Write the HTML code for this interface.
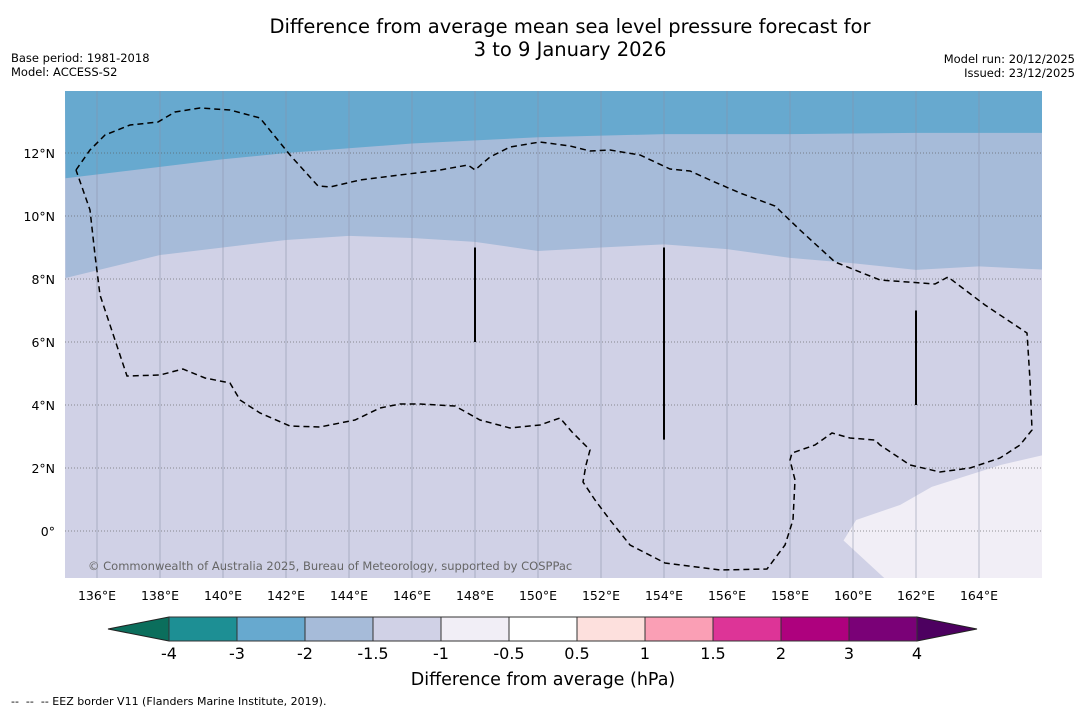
<!DOCTYPE html>
<html><head><meta charset="utf-8"><style>
body{margin:0;background:#fff;font-family:"DejaVu Sans","Liberation Sans",sans-serif;}
#root{position:relative;width:1085px;height:713px;overflow:hidden;background:#fff;}
.t{position:absolute;white-space:nowrap;color:#000;}
</style></head><body>
<div id="root">
<div class="t" style="left:0;width:1140px;text-align:center;top:15px;font-size:19.5px;line-height:23px;">Difference from average mean sea level pressure forecast for<br>3 to 9 January 2026</div>
<div class="t" style="left:11px;top:51px;font-size:11.5px;line-height:14px;">Base period: 1981-2018<br>Model: ACCESS-S2</div>
<div class="t" style="right:10px;top:52px;font-size:11.5px;line-height:14px;text-align:right;">Model run: 20/12/2025<br>Issued: 23/12/2025</div>
<svg id="map" width="1085" height="713" style="position:absolute;left:0;top:0;"></svg>
<div class="t" style="left:11px;top:695px;font-size:11px;">-- &nbsp;-- &nbsp;-- EEZ border V11 (Flanders Marine Institute, 2019).</div>
</div>
<script>
const lonTicks=[136,138,140,142,144,146,148,150,152,154,156,158,160,162,164];
const latTicks=[0,2,4,6,8,10,12];
const cbLevels=[-4,-3,-2,-1.5,-1,-0.5,0.5,1,1.5,2,3,4];
const cbColors=['#1d8f94','#67a9cf','#a6bbd9','#d0d1e6','#f1eef6','#ffffff','#fde0dd','#fa9fb5','#dd3497','#ae017e','#7a0177'];
const b1Lon=[135,140,142,146,150,154,158,162,166];
const b1Lat=[11.2,11.8,12.0,12.3,12.5,12.6,12.6,12.64,12.64];
const b2Lon=[135,138,142,144,146,148,150,152,154,156,158,160,162,164,166];
const b2Lat=[8.03,8.76,9.24,9.37,9.3,9.18,8.89,9.0,9.1,8.95,8.67,8.5,8.29,8.4,8.3];
const wLon=[166,164.7,162.5,161.5,160.1,159.7,161,166];
const wLat=[2.4,2.1,1.4,0.83,0.35,-0.3,-1.5,-1.5];
const X0=65.5,Y0=531,K=31.5,L=65,R=1042,T=91,B=578;
const x=lon=>X0+(lon-135)*K, y=lat=>Y0-lat*K;
const svg=document.getElementById('map');const NS='http://www.w3.org/2000/svg';
function mk(tag,attrs,parent){const e=document.createElementNS(NS,tag);for(const k in attrs)e.setAttribute(k,attrs[k]);(parent||svg).appendChild(e);return e;}
const clip=mk('clipPath',{id:'c'});mk('rect',{x:L,y:T,width:R-L,height:B-T},clip);
const g=mk('g',{'clip-path':'url(#c)'});

let r=mk('rect',{x:L,y:T,width:R-L,height:B-T,fill:'#d0d1e6'},g);

let p2='M'+L+','+T+' '+b2Lon.map((o,i)=>'L'+x(o)+','+y(b2Lat[i])).join(' ')+' L'+R+','+T+'Z';
let e=mk('path',{d:p2,fill:'#a6bbd9'},g);

let p1='M'+L+','+T+' '+b1Lon.map((o,i)=>'L'+x(o)+','+y(b1Lat[i])).join(' ')+' L'+R+','+T+'Z';
e=mk('path',{d:p1,fill:'#67a9cf'},g);

let pw='M'+wLon.map((o,i)=>x(o)+','+y(wLat[i])).join(' L')+'Z';
e=mk('path',{d:pw,fill:'#f1eef6'},g);

lonTicks.forEach(o=>{const l=mk('line',{x1:x(o),x2:x(o),y1:T,y2:B,stroke:'#8890a8','stroke-width':1,opacity:0.55},g);

const t=mk('text',{x:x(o),y:600,'font-size':12.5,'text-anchor':'middle','font-family':'DejaVu Sans, sans-serif'});t.textContent=o+'°E';
});
latTicks.forEach(a=>{const l=mk('line',{x1:L,x2:R,y1:y(a),y2:y(a),stroke:'#555','stroke-width':1,'stroke-dasharray':'1 2',opacity:0.6},g);

const t=mk('text',{x:55,y:y(a)+5,'font-size':12.5,'text-anchor':'end','font-family':'DejaVu Sans, sans-serif'});t.textContent=a===0?'0°':a+'°N';
});
const eez="M76,170 L90,150 105,135 130,125 158,122 175,112 200,108 230,110 260,118 290,155 318,186 330,187 360,180 400,175 440,170 468,165 475,170 490,157 510,147 540,142 570,146 590,151 610,150 640,155 670,169 690,171 710,180 740,193 775,206 800,230 835,262 880,280 935,284 948,277 985,305 1027,333 1030,380 1032,430 1020,445 1000,458 970,468 940,472 910,465 880,445 875,440 850,438 832,433 815,445 792,453 790,460 795,480 793,520 785,545 767,569 720,570 665,563 630,545 610,520 595,500 583,482 586,465 590,450 572,432 560,418 540,425 510,428 480,420 455,406 420,404 400,404 380,408 355,420 320,427 290,426 260,413 240,400 230,383 205,378 183,369 160,375 127,376 115,340 100,295 95,255 90,210 76,170";
e=mk('path',{d:eez,fill:'none',stroke:'#000','stroke-width':1.5,'stroke-dasharray':'6 4'},g);

[[148,9,6],[154,9,2.9],[162,7,4]].forEach(s=>{const l=mk('line',{x1:x(s[0]),x2:x(s[0]),y1:y(s[1]),y2:y(s[2]),stroke:'#000','stroke-width':2},g);
});
e=mk('text',{x:88,y:570,'font-size':11.5,fill:'#666','font-family':'DejaVu Sans, sans-serif'},g);e.textContent='© Commonwealth of Australia 2025, Bureau of Meteorology, supported by COSPPac';

const cbL=169,cbR=917,cbT=617,cbB=641,w=(cbR-cbL)/cbColors.length;
e=mk('path',{d:`M${cbL},${cbT} L108,629 L${cbL},${cbB}Z`,fill:'#0b6e5c',stroke:'#222'});

e=mk('path',{d:`M${cbR},${cbT} L977,629 L${cbR},${cbB}Z`,fill:'#4d0060',stroke:'#222'});

cbColors.forEach((c,i)=>{const q=mk('rect',{x:cbL+i*w,y:cbT,width:w,height:cbB-cbT,fill:c,stroke:'#333','stroke-width':1});
});
cbLevels.forEach((v,i)=>{const t=mk('text',{x:cbL+i*w,y:659,'font-size':16,'text-anchor':'middle','font-family':'DejaVu Sans, sans-serif'});t.textContent=v;
});
e=mk('text',{x:543,y:685,'font-size':17.5,'text-anchor':'middle','font-family':'DejaVu Sans, sans-serif'});e.textContent='Difference from average (hPa)';

</script>
</body></html>
